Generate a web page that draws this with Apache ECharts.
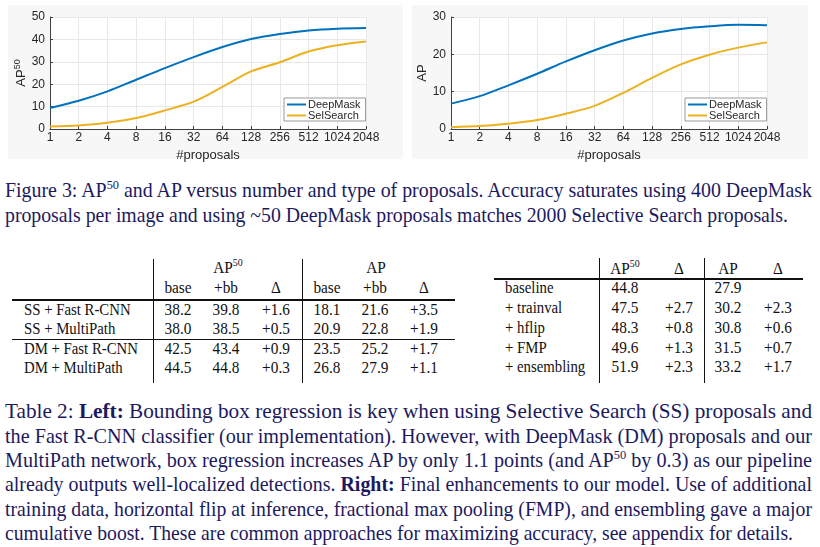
<!DOCTYPE html>
<html><head><meta charset="utf-8">
<script src="https://cdn.jsdelivr.net/npm/echarts@6/dist/echarts.min.js"></script>
<style>
html,body{margin:0;padding:0;background:#fff;width:820px;height:547px;overflow:hidden;position:relative}
#chart{position:absolute;left:0;top:0;width:820px;height:170px}
.cap{position:absolute;left:5px;white-space:nowrap;font-family:"Liberation Serif",serif;font-size:21px;line-height:22px;color:#1c1a5e;transform-origin:0 50%}
.cap sup{font-size:13px;line-height:0;vertical-align:8px}
.cell{position:absolute;white-space:nowrap;font-family:"Liberation Serif",serif;font-size:17px;line-height:18px;color:#111;transform:translate(-50%,-50%) scaleX(0.9)}
.lab{position:absolute;white-space:nowrap;font-family:"Liberation Serif",serif;font-size:17px;line-height:18px;color:#111;transform:translateY(-50%) scaleX(0.87);transform-origin:0 50%}
.cell sup{font-size:11px;line-height:0;vertical-align:7px}
.hl{position:absolute;background:#111}
</style></head>
<body>
<div id="chart"></div>
<div id="txt"></div>
<script>
// ---- chart data ----
const proposals = ['1', '2', '4', '8', '16', '32', '64', '128', '256', '512', '1024', '2048'];
const ap50DeepMask = [9.4, 12.6, 16.8, 22.0, 27.2, 32.1, 36.6, 40.2, 42.4, 44.0, 44.8, 45.1];
const ap50SelSearch = [1.1, 1.6, 2.8, 4.9, 8.3, 12.2, 18.8, 25.7, 29.8, 34.6, 37.4, 39.1];
const apDeepMask = [6.8, 8.8, 11.7, 14.8, 18.1, 21.1, 23.7, 25.6, 26.8, 27.5, 27.9, 27.8];
const apSelSearch = [0.5, 0.8, 1.4, 2.4, 4.1, 6.2, 9.7, 13.7, 17.3, 19.9, 21.8, 23.2];
const seriesNames = ['DeepMask', 'SelSearch'];
const leftYTicks = {min: 0, max: 50, interval: 10};
const rightYTicks = {min: 0, max: 30, interval: 10};

// ---- table data ----
const leftRowLabels = ['SS + Fast R-CNN', 'SS + MultiPath', 'DM + Fast R-CNN', 'DM + MultiPath'];
const leftAp50Base = ['38.2', '38.0', '42.5', '44.5'];
const leftAp50Bb = ['39.8', '38.5', '43.4', '44.8'];
const leftAp50Delta = ['+1.6', '+0.5', '+0.9', '+0.3'];
const leftApBase = ['18.1', '20.9', '23.5', '26.8'];
const leftApBb = ['21.6', '22.8', '25.2', '27.9'];
const leftApDelta = ['+3.5', '+1.9', '+1.7', '+1.1'];
const rightRowLabels = ['baseline', '+ trainval', '+ hflip', '+ FMP', '+ ensembling'];
const rightAp50 = ['44.8', '47.5', '48.3', '49.6', '51.9'];
const rightAp50Delta = ['', '+2.7', '+0.8', '+1.3', '+2.3'];
const rightAp = ['27.9', '30.2', '30.8', '31.5', '33.2'];
const rightApDelta = ['', '+2.3', '+0.6', '+0.7', '+1.7'];

const BLUE = '#0072BD', ORANGE = '#EDB120', AX = '#404040';

function xAxisCfg(gi) {
  return {
    gridIndex: gi, type: 'category', data: proposals, boundaryGap: false,
    name: '#proposals', nameLocation: 'middle', nameGap: 13,
    nameTextStyle: {fontFamily: 'Liberation Sans', fontSize: 13, color: '#262626'},
    axisLine: {show: true, lineStyle: {color: AX, width: 1}},
    axisTick: {show: true, inside: true, length: 3, interval: 0, lineStyle: {color: AX}},
    axisLabel: {fontFamily: 'Liberation Sans', fontSize: 12, color: '#262626', margin: 3, interval: 0, hideOverlap: false},
    splitLine: {show: true, interval: 0, lineStyle: {color: '#e8e8e8', width: 1}}
  };
}
function yAxisCfg(gi, t, name) {
  return {
    gridIndex: gi, type: 'value', min: t.min, max: t.max, interval: t.interval,
    name: name, nameLocation: 'middle', nameGap: 12, nameRotate: 90,
    nameTextStyle: {fontFamily: 'Liberation Sans', fontSize: 13, color: '#262626',
      rich: {a: {fontFamily: 'Liberation Sans', fontSize: 13, color: '#262626'},
             s: {fontFamily: 'Liberation Sans', fontSize: 9, color: '#262626', padding: [0, 0, 7, 0]}}},
    axisLine: {show: true, lineStyle: {color: AX, width: 1}},
    axisTick: {show: true, inside: true, length: 3, lineStyle: {color: AX}},
    axisLabel: {fontFamily: 'Liberation Sans', fontSize: 12, color: '#262626', margin: 5},
    splitLine: {show: true, lineStyle: {color: '#e8e8e8', width: 1}}
  };
}
function lineSeries(name, gi, ys, color) {
  return {
    name: name, type: 'line', xAxisIndex: gi, yAxisIndex: gi, data: ys,
    smooth: 0.3, symbol: 'none', showSymbol: false,
    lineStyle: {color: color, width: 2}, itemStyle: {color: color}, z: 3
  };
}
function legendCfg(left) {
  return {
    data: seriesNames.map(n => ({name: n, icon: 'rect'})), left: left, top: 98, orient: 'vertical',
    itemWidth: 19, itemHeight: 2, itemGap: 0,
    padding: [1, 5, 0, 3], borderColor: '#9a9a9a', borderWidth: 1, backgroundColor: '#fff',
    textStyle: {fontFamily: 'Liberation Sans', fontSize: 11, color: '#262626', padding: [0, 0, 0, -3], lineHeight: 10},
    selectedMode: false
  };
}

const chart = echarts.init(document.getElementById('chart'), null, {renderer: 'canvas'});
chart.setOption({
  animation: false,
  graphic: [
    {type: 'rect', shape: {x: 8, y: 5, width: 395, height: 154}, style: {fill: '#f7f7f7'}, z: -10, silent: true},
    {type: 'rect', shape: {x: 412, y: 5, width: 396, height: 154}, style: {fill: '#f7f7f7'}, z: -10, silent: true}
  ],
  grid: [
    {left: 50, top: 17, width: 316, height: 112, show: true, backgroundColor: '#fff', borderWidth: 0},
    {left: 451, top: 17, width: 316, height: 112, show: true, backgroundColor: '#fff', borderWidth: 0}
  ],
  xAxis: [xAxisCfg(0), xAxisCfg(1)],
  yAxis: [yAxisCfg(0, leftYTicks, '{a|AP}{s|50}'), yAxisCfg(1, rightYTicks, 'AP')],
  legend: [legendCfg(284), legendCfg(685)],
  series: [
    lineSeries(seriesNames[0], 0, ap50DeepMask, BLUE),
    lineSeries(seriesNames[1], 0, ap50SelSearch, ORANGE),
    lineSeries(seriesNames[0], 1, apDeepMask, BLUE),
    lineSeries(seriesNames[1], 1, apSelSearch, ORANGE)
  ]
});

// ---- text: captions and tables ----
const txt = document.getElementById('txt');
function capLine(html, y, target) {
  const d = document.createElement('div');
  d.className = 'cap'; d.innerHTML = html; d.style.top = (y - 11) + 'px';
  txt.appendChild(d);
  const w = d.getBoundingClientRect().width;
  d.style.transform = 'scaleX(' + (target / w) + ')';
}
const FULL = 807;
capLine('Figure 3: AP<sup>50</sup> and AP versus number and type of proposals. Accuracy saturates using 400 DeepMask', 190, FULL);
capLine('proposals per image and using ~50 DeepMask proposals matches 2000 Selective Search proposals.', 215, 783);
capLine('Table 2: <b>Left:</b> Bounding box regression is key when using Selective Search (SS) proposals and', 411, FULL);
capLine('the Fast R-CNN classifier (our implementation). However, with DeepMask (DM) proposals and our', 436, FULL);
capLine('MultiPath network, box regression increases AP by only 1.1 points (and AP<sup>50</sup> by 0.3) as our pipeline', 460, FULL);
capLine('already outputs well-localized detections. <b>Right:</b> Final enhancements to our model. Use of additional', 484, FULL);
capLine('training data, horizontal flip at inference, fractional max pooling (FMP), and ensembling gave a major', 509, FULL);
capLine('cumulative boost. These are common approaches for maximizing accuracy, see appendix for details.', 533, 788);

function cell(html, x, y) {
  const d = document.createElement('div'); d.className = 'cell'; d.innerHTML = html;
  d.style.left = x + 'px'; d.style.top = y + 'px'; txt.appendChild(d);
}
function lab(html, x, y) {
  const d = document.createElement('div'); d.className = 'lab'; d.innerHTML = html;
  d.style.left = x + 'px'; d.style.top = y + 'px'; txt.appendChild(d);
}
function hl(x, y, w, h) {
  const d = document.createElement('div'); d.className = 'hl';
  d.style.left = x + 'px'; d.style.top = y + 'px'; d.style.width = w + 'px'; d.style.height = h + 'px';
  txt.appendChild(d);
}
// left table
cell('AP<sup>50</sup>', 228, 268); cell('AP', 376, 268);
const lcols = [178, 226, 276, 327, 375, 424];
['base', '+bb', '&Delta;', 'base', '+bb', '&Delta;'].forEach((h, i) => cell(h, lcols[i], 288));
const lrowsY = [310, 329, 349, 368];
const lcolsData = [leftAp50Base, leftAp50Bb, leftAp50Delta, leftApBase, leftApBb, leftApDelta];
leftRowLabels.forEach((l, r) => {
  lab(l, 24, lrowsY[r]);
  lcolsData.forEach((col, c) => cell(col[r], lcols[c], lrowsY[r]));
});
hl(12, 299, 443, 2); hl(12, 339, 443, 1);
hl(153, 259, 1, 124); hl(302, 259, 1, 124);
// right table
const rcols = [625, 679, 728, 778];
['AP<sup>50</sup>', '&Delta;', 'AP', '&Delta;'].forEach((h, i) => cell(h, rcols[i], 269));
const rrowsY = [288, 308, 328, 348, 367];
const rcolsData = [rightAp50, rightAp50Delta, rightAp, rightApDelta];
rightRowLabels.forEach((l, r) => {
  lab(l, 505, rrowsY[r]);
  rcolsData.forEach((col, c) => { if (col[r]) cell(col[r], rcols[c], rrowsY[r]); });
});
hl(494, 278, 309, 2);
hl(599, 258, 1, 125); hl(704, 258, 1, 125);
</script>
</body></html>
